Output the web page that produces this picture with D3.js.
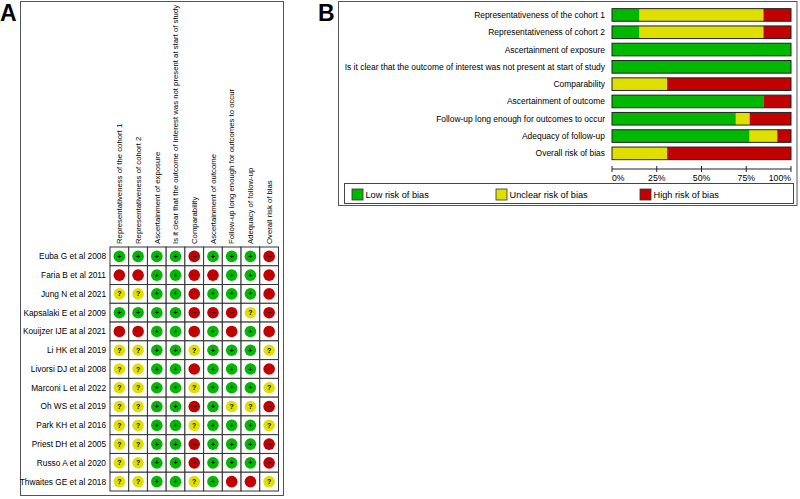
<!DOCTYPE html>
<html><head><meta charset="utf-8">
<script src="https://cdn.jsdelivr.net/npm/d3@7"></script>
<style>body{margin:0;background:#fff}svg{display:block;font-family:"Liberation Sans",Arial,sans-serif}</style>
</head><body><svg id="c" width="800" height="499"></svg>
<script>
const domains = ["Representativeness of the cohort 1","Representativeness of cohort 2","Ascertainment of exposure","Is it clear that the outcome of interest was not present at start of study","Comparability","Ascertainment of outcome","Follow-up long enough for outcomes to occur","Adequacy of follow-up","Overall risk of bias"];
const studies = ["Euba G et al 2008","Faria B et al 2011","Jung N et al 2021","Kapsalaki E et al 2009","Kouijzer IJE at al 2021","Li HK et al 2019","Livorsi DJ et al 2008","Marconi L et al 2022","Oh WS et al 2019","Park KH et al 2016","Priest DH et al 2005","Russo A et al 2020","Thwaites GE et al 2018"];
// + low, ? unclear, - high
const judgements = [
 "+ + + + - + + + -",
 "- - + + - - + + -",
 "? ? + + - + + + -",
 "+ + + + - - - ? -",
 "- - + + - + - + -",
 "? ? + + ? + + + ?",
 "? ? + + - + + + -",
 "? ? + + ? + + + ?",
 "? ? + + - + ? ? -",
 "? ? + + ? + + + ?",
 "? ? + + - + + + -",
 "? ? + + - + + + -",
 "? ? + + ? + - - ?"
];
// Panel B percentages (low, unclear, high)
const lowPct     = [15.4, 15.4, 100, 100, 0, 84.6, 69.2, 76.9, 0];
const unclearPct = [69.2, 69.2, 0, 0, 30.8, 0, 7.7, 15.4, 30.8];
const highPct    = [15.4, 15.4, 0, 0, 69.2, 15.4, 23.1, 7.7, 69.2];
const tickLabels = ["0%","25%","50%","75%","100%"];
const legendLabels = ["Low risk of bias","Unclear risk of bias","High risk of bias"];

const colors = {"+":"#00b800","?":"#e0e000","-":"#c20000"};
const svg = d3.select("#c");

// ---------- Panel A ----------
svg.append("text").attr("x",0).attr("y",21).attr("font-size",23).attr("font-weight","bold").attr("font-family","Liberation Sans, Arial").text("A");
svg.append("rect").attr("x",20.5).attr("y",1.5).attr("width",263).attr("height",494).attr("fill","none").attr("stroke","#555").attr("stroke-width",1);

const gx = d3.scaleBand().domain(d3.range(domains.length)).range([110,278.5]);
const gy = d3.scaleBand().domain(d3.range(studies.length)).range([247,491]);
const gA = svg.append("g");
// headers
gA.selectAll("text.h").data(domains).join("text").attr("class","h")
  .attr("transform",(d,i)=>`translate(${gx(i)+gx.bandwidth()/2},244) rotate(-90)`)
  .attr("dy","0.35em").attr("font-size",7.75).attr("fill","#000").text(d=>d);
// row labels
gA.selectAll("text.r").data(studies).join("text").attr("class","r")
  .attr("x",106).attr("y",(d,i)=>gy(i)+gy.bandwidth()/2).attr("dy","0.35em")
  .attr("text-anchor","end").attr("font-size",8.3).attr("fill","#000").text(d=>d);
// cells
const cells = [];
judgements.forEach((row,ri)=>row.split(" ").forEach((j,ci)=>cells.push({ri,ci,j})));
gA.selectAll("rect.cell").data(cells).join("rect").attr("class","cell")
  .attr("x",d=>gx(d.ci)).attr("y",d=>gy(d.ri)).attr("width",gx.bandwidth()).attr("height",gy.bandwidth())
  .attr("fill","#fff").attr("stroke","#333").attr("stroke-width",1);
gA.selectAll("circle").data(cells).join("circle")
  .attr("cx",d=>gx(d.ci)+gx.bandwidth()/2).attr("cy",d=>gy(d.ri)+gy.bandwidth()/2).attr("r",5.8)
  .attr("fill",d=>colors[d.j]);
gA.selectAll("text.s").data(cells).join("text").attr("class","s")
  .attr("x",d=>gx(d.ci)+gx.bandwidth()/2).attr("y",d=>gy(d.ri)+gy.bandwidth()/2).attr("dy","0.36em")
  .attr("text-anchor","middle").attr("font-size",7).attr("font-weight","bold").attr("fill","#000")
  .text(d=>d.j==="-"?"−":d.j);

// ---------- Panel B ----------
svg.append("text").attr("x",318).attr("y",21).attr("font-size",23).attr("font-weight","bold").attr("font-family","Liberation Sans, Arial").text("B");
svg.append("rect").attr("x",338.5).attr("y",1.5).attr("width",458.5).attr("height",204).attr("fill","none").attr("stroke","#555").attr("stroke-width",1);

const bx = d3.scaleLinear().domain([0,100]).range([612,791]);
const by = d3.scaleBand().domain(d3.range(domains.length)).range([6.3,162]).paddingInner(0.27).paddingOuter(0.135);
const gB = svg.append("g");
gB.selectAll("text.l").data(domains).join("text").attr("class","l")
  .attr("x",605).attr("y",(d,i)=>by(i)+by.bandwidth()/2).attr("dy","0.35em")
  .attr("text-anchor","end").attr("font-size",8.45).attr("fill","#000").text(d=>d);
const segs = [];
domains.forEach((d,i)=>{
  let s=0;
  [["+",lowPct[i]],["?",unclearPct[i]],["-",highPct[i]]].forEach(([k,v])=>{ if(v>0) segs.push({i,k,x0:s,x1:s+v}); s+=v; });
});
gB.selectAll("rect.seg").data(segs).join("rect").attr("class","seg")
  .attr("x",d=>bx(d.x0)).attr("width",d=>bx(d.x1)-bx(d.x0)).attr("y",d=>by(d.i)).attr("height",by.bandwidth())
  .attr("fill",d=>colors[d.k]);
gB.selectAll("rect.out").data(domains).join("rect").attr("class","out")
  .attr("x",bx(0)).attr("width",bx(100)-bx(0)).attr("y",(d,i)=>by(i)).attr("height",by.bandwidth())
  .attr("fill","none").attr("stroke","#222").attr("stroke-width",1);
// axis
const ax = gB.append("g").attr("transform","translate(0,169)");
ax.append("line").attr("x1",bx(0)).attr("x2",bx(100)).attr("stroke","#222");
const tv=[0,25,50,75,100];
ax.selectAll("line.t").data(tv).join("line").attr("class","t").attr("x1",d=>bx(d)).attr("x2",d=>bx(d)).attr("y1",-3).attr("y2",3).attr("stroke","#222");
ax.selectAll("text").data(tv).join("text").attr("x",d=>bx(d)).attr("y",11.5)
  .attr("text-anchor",(d,i)=>i===0?"start":(i===4?"end":"middle")).attr("font-size",8.7).attr("fill","#000").text((d,i)=>tickLabels[i]);
// legend
svg.append("rect").attr("x",344.5).attr("y",183.5).attr("width",449).attr("height",20).attr("fill","none").attr("stroke","#444");
const lx=[352,496,640], lk=["+","?","-"];
const lg = svg.selectAll("g.lg").data(legendLabels).join("g").attr("class","lg").attr("transform",(d,i)=>`translate(${lx[i]},189)`);
lg.append("rect").attr("width",11).attr("height",11).attr("fill",(d,i)=>colors[lk[i]]).attr("stroke","#333").attr("stroke-width",0.8);
lg.append("text").attr("x",13.5).attr("y",5.5).attr("dy","0.35em").attr("font-size",9.2).attr("fill","#000").text(d=>d);
</script></body></html>
